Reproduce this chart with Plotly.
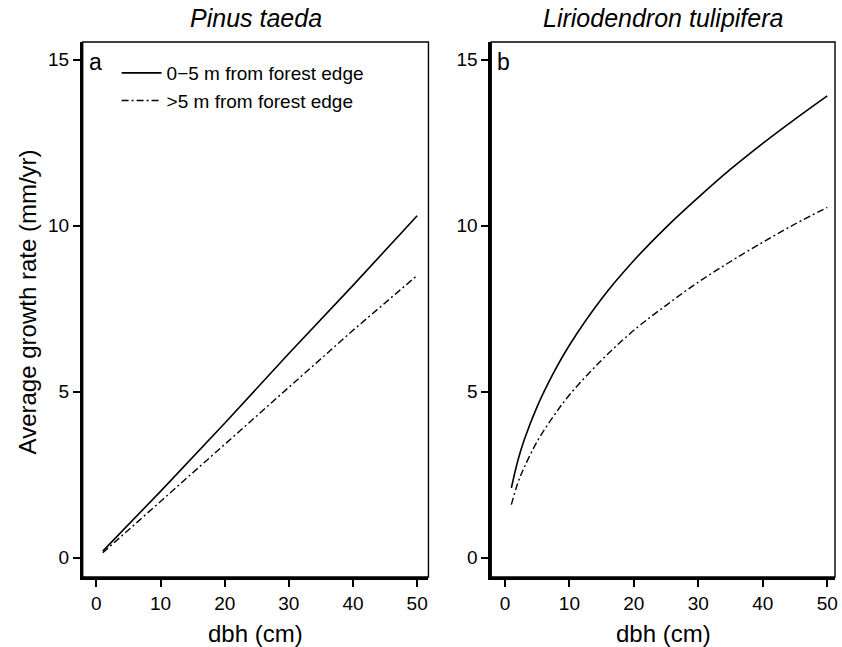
import plotly.graph_objects as go

# ---- data ----
dbh_pinus = [1, 10, 20, 30, 40, 50]
pinus_edge = [0.20, 2.00, 4.05, 6.15, 8.20, 10.30]
pinus_interior = [0.15, 1.70, 3.40, 5.15, 6.85, 8.50]

dbh_lirio = [1, 2, 3, 5, 7.5, 10, 15, 20, 25, 30, 35, 40, 45, 50]
lirio_edge = [2.10, 2.92, 3.55, 4.55, 5.55, 6.40, 7.80, 8.95, 9.95, 10.85, 11.70, 12.48, 13.21, 13.91]
lirio_interior = [1.60, 2.25, 2.72, 3.50, 4.25, 4.90, 5.95, 6.85, 7.60, 8.30, 8.92, 9.50, 10.05, 10.55]

legend_labels = ["0\u22125 m from forest edge", ">5 m from forest edge"]
panel_titles = ["Pinus taeda", "Liriodendron tulipifera"]
panel_letters = ["a", "b"]
x_ticks = [0, 10, 20, 30, 40, 50]
y_ticks = [0, 5, 10, 15]

W, H = 842, 647
FONT = "Liberation Sans, Arial, Helvetica, sans-serif"
DASHDOT = "7px,3px,2px,3px"

fig = go.Figure()

fig.add_trace(go.Scatter(x=dbh_pinus, y=pinus_edge, mode="lines", name=legend_labels[0],
                         line=dict(color="black", width=1.6), xaxis="x", yaxis="y"))
fig.add_trace(go.Scatter(x=dbh_pinus, y=pinus_interior, mode="lines", name=legend_labels[1],
                         line=dict(color="black", width=1.4, dash=DASHDOT), xaxis="x", yaxis="y"))
fig.add_trace(go.Scatter(x=dbh_lirio, y=lirio_edge, mode="lines", showlegend=False,
                         line=dict(color="black", width=1.6, shape="spline", smoothing=1.0),
                         xaxis="x2", yaxis="y2"))
fig.add_trace(go.Scatter(x=dbh_lirio, y=lirio_interior, mode="lines", showlegend=False,
                         line=dict(color="black", width=1.4, dash=DASHDOT, shape="spline", smoothing=1.0),
                         xaxis="x2", yaxis="y2"))

xdom_a = [83 / W, 430 / W]
xdom_b = [493 / W, 838 / W]
ydom = [1 - 577 / H, 1 - 42 / H]

axis_common = dict(showgrid=False, zeroline=False, showline=True, linecolor="black", linewidth=2.5,
                   ticks="outside", ticklen=7, tickwidth=1.5, tickcolor="black",
                   tickfont=dict(family=FONT, size=19, color="black"))

fig.update_layout(
    width=W, height=H,
    margin=dict(l=0, r=0, t=0, b=0),
    paper_bgcolor="white", plot_bgcolor="white",
    showlegend=True,
    legend=dict(x=117 / W, y=1 - 54 / H, xanchor="left", yanchor="top", itemwidth=40,
                bgcolor="rgba(0,0,0,0)", font=dict(family=FONT, size=19, color="black"),
                tracegroupgap=0),
    xaxis=dict(domain=xdom_a, range=[-2.13, 51.76], tickvals=x_ticks, anchor="y", **axis_common),
    yaxis=dict(domain=ydom, range=[-0.58, 15.53], tickvals=y_ticks, anchor="x", **axis_common),
    xaxis2=dict(domain=xdom_b, range=[-2.12, 51.2], tickvals=x_ticks, anchor="y2", **axis_common),
    yaxis2=dict(domain=ydom, range=[-0.58, 15.53], tickvals=y_ticks, anchor="x2", **axis_common),
)

# thin box around each panel
for xr, yr in [("x domain", "y domain"), ("x2 domain", "y2 domain")]:
    fig.add_shape(type="rect", xref=xr, yref=yr, x0=0, x1=1, y0=0, y1=1,
                  line=dict(color="black", width=1.4), layer="above")

ann = []
centers = [(xdom_a[0] + xdom_a[1]) / 2, (xdom_b[0] + xdom_b[1]) / 2]
for c, t in zip(centers, panel_titles):
    ann.append(dict(text="<i>%s</i>" % t, x=c, y=1 - 18 / H, xref="paper", yref="paper",
                    showarrow=False, xanchor="center", yanchor="middle",
                    font=dict(family=FONT, size=25, color="black")))
    ann.append(dict(text="dbh (cm)", x=c, y=1 - 633 / H, xref="paper", yref="paper",
                    showarrow=False, xanchor="center", yanchor="middle",
                    font=dict(family=FONT, size=24, color="black")))
for xd, letter in zip([xdom_a, xdom_b], panel_letters):
    ann.append(dict(text=letter, x=xd[0] + 4 / W, y=1 - 47 / H, xref="paper", yref="paper",
                    showarrow=False, xanchor="left", yanchor="top",
                    font=dict(family=FONT, size=23, color="black")))
ann.append(dict(text="Average growth rate (mm/yr)", x=28 / W, y=(ydom[0] + ydom[1]) / 2 + 8 / H,
                xref="paper", yref="paper", textangle=-90, showarrow=False,
                xanchor="center", yanchor="middle", font=dict(family=FONT, size=24, color="black")))
fig.update_layout(annotations=ann)

fig.write_html("out.html", config={"displayModeBar": False},
               post_script="document.body.style.margin='0';document.body.style.overflow='hidden';")
